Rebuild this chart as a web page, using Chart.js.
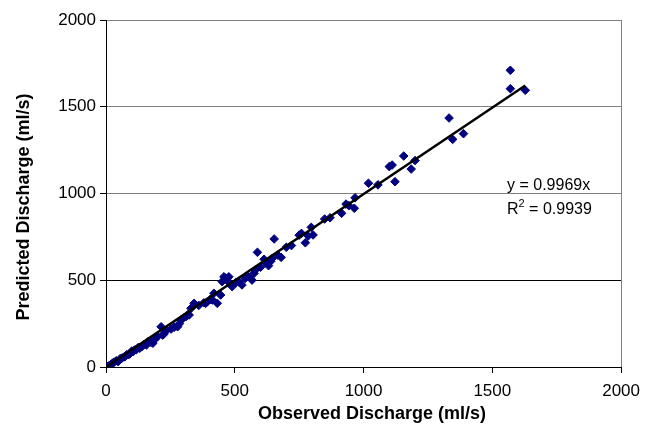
<!DOCTYPE html>
<html><head><meta charset="utf-8">
<script src="https://cdn.jsdelivr.net/npm/chart.js@4"></script>
<style>html,body{margin:0;padding:0;background:#fff}canvas{display:block}</style>
</head><body>
<canvas id="c" width="648" height="430"></canvas>
<script>
const observed = [0,5,12,20,25,32,40,47,55,62,70,73,80,88,92,100,105,111,118,125,131,140,148,157,165,175,182,190,200,214,220,225,235,253,265,278,285,291,300,310,317,323,330,342,360,380,387,393,405,413,419,432,445,451,458,464,470,477,482,490,503,515,528,540,554,567,575,580,588,600,614,620,631,640,645,653,667,680,700,720,750,759,774,785,797,804,849,870,915,932,943,964,967,1019,1056,1100,1111,1122,1156,1185,1200,1332,1346,1388,1570,1570,1628];
const predicted = [0,3,8,15,22,28,36,31,48,52,58,59,70,72,75,92,88,98,100,112,108,118,130,127,148,142,137,160,175,232,184,190,210,219,230,232,250,271,282,290,300,300,338,367,355,370,367,376,390,386,425,367,415,492,520,511,500,520,480,463,486,490,473,510,520,501,540,559,661,575,621,600,584,610,625,738,645,632,690,700,760,770,716,755,805,761,853,860,886,939,930,915,975,1059,1050,1155,1164,1068,1216,1141,1190,1435,1312,1345,1710,1604,1595];
const slope = 0.9969;
const rSquared = 0.9939;
const axisMin = 0, axisMax = 2000, axisStep = 500;
const xTitle = 'Observed Discharge (ml/s)';
const yTitle = 'Predicted Discharge (ml/s)';
const eqLine1 = 'y = ' + slope.toFixed(4) + 'x';
const eqLine2 = ' = ' + rSquared.toFixed(4);

const points = observed.map((x, i) => ({x: x, y: predicted[i]}));
const maxObs = Math.max(...observed);
const trend = [{x: 0, y: 0}, {x: maxObs, y: slope * maxObs}];

const FONT = "'Liberation Sans', Arial, sans-serif";

const textPlugin = {
  id: 'texts',
  beforeDatasetsDraw(chart) {
    const ctx = chart.ctx;
    const xs = chart.scales.x, ys = chart.scales.y;
    const px = Math.round(xs.getPixelForValue(axisMax)) + 0.5;
    ctx.save();
    ctx.strokeStyle = '#808080';
    ctx.lineWidth = 1;
    ctx.beginPath();
    ctx.moveTo(px, ys.getPixelForValue(axisMax));
    ctx.lineTo(px, ys.getPixelForValue(axisMin));
    ctx.stroke();
    ctx.restore();
  },
  afterDraw(chart) {
    const ctx = chart.ctx;
    ctx.save();
    ctx.fillStyle = '#000';
    ctx.font = 'bold 18px ' + FONT;
    ctx.textAlign = 'center';
    ctx.textBaseline = 'alphabetic';
    ctx.fillText(xTitle, 372, 419);
    ctx.save();
    ctx.translate(29, 207);
    ctx.rotate(-Math.PI / 2);
    ctx.fillText(yTitle, 0, 0);
    ctx.restore();
    ctx.textAlign = 'left';
    ctx.font = '16px ' + FONT;
    const ex = 507;
    ctx.fillText(eqLine1, ex, 190);
    ctx.fillText('R', ex, 214);
    const rw = ctx.measureText('R').width;
    ctx.font = '11px ' + FONT;
    ctx.fillText('2', ex + rw, 207);
    const sw = ctx.measureText('2').width;
    ctx.font = '16px ' + FONT;
    ctx.fillText(eqLine2, ex + rw + sw, 214);
    ctx.restore();
  }
};

new Chart(document.getElementById('c'), {
  type: 'scatter',
  data: {
    datasets: [
      {
        type: 'line',
        data: trend,
        borderColor: '#000',
        borderWidth: 2.5,
        pointRadius: 0,
        fill: false,
        order: 0
      },
      {
        data: points,
        pointStyle: 'rectRot',
        pointRadius: 4.3,
        pointBorderWidth: 1,
        backgroundColor: '#000080',
        borderColor: '#000080',
        order: 1
      }
    ]
  },
  options: {
    responsive: false,
    animation: false,
    events: [],
    layout: {padding: {left: 0, top: 20, right: 22, bottom: 0}},
    plugins: {legend: {display: false}, tooltip: {enabled: false}},
    scales: {
      x: {
        type: 'linear', min: axisMin, max: axisMax,
        ticks: {stepSize: axisStep, color: '#000', font: {family: FONT, size: 17}, padding: 8, maxRotation: 0,
                callback: v => String(v)},
        grid: {
          color: 'rgba(0,0,0,0)',
          tickColor: '#000', tickLength: 6, lineWidth: 1
        },
        border: {color: '#000', width: 1},
        afterFit: s => { s.height = 63; }
      },
      y: {
        type: 'linear', min: axisMin, max: axisMax,
        ticks: {stepSize: axisStep, color: '#000', font: {family: FONT, size: 17}, padding: 4,
                callback: v => String(v)},
        grid: {
          color: c => {
            if (!c.tick) return 'rgba(0,0,0,0)';
            if (c.tick.value === 0) return 'rgba(0,0,0,0)';
            if (c.tick.value === 500) return '#000';
            return '#808080';
          },
          tickColor: '#000', tickLength: 6, lineWidth: 1
        },
        border: {color: '#000', width: 1},
        afterFit: s => { s.width = 106; }
      }
    }
  },
  plugins: [textPlugin]
});
</script>
</body></html>
